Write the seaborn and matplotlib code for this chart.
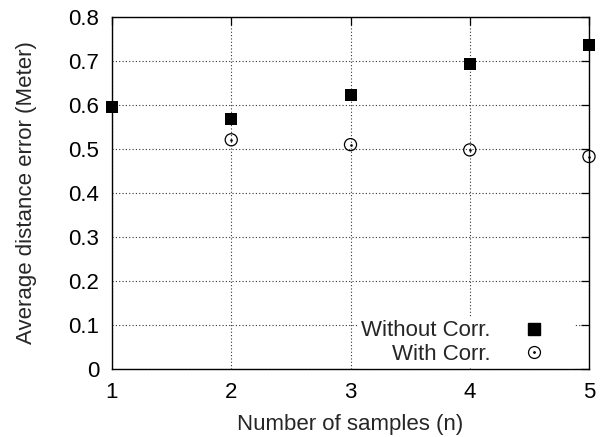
import matplotlib
matplotlib.use("Agg")
import matplotlib.pyplot as plt
import seaborn as sns
import pandas as pd
from matplotlib.lines import Line2D
from matplotlib.legend_handler import HandlerTuple

# values
samples_without = [1, 2, 3, 4, 5]
err_without = [0.596, 0.568, 0.623, 0.694, 0.736]
samples_with = [2, 3, 4, 5]
err_with = [0.521, 0.510, 0.498, 0.483]
y_ticks = [0, 0.1, 0.2, 0.3, 0.4, 0.5, 0.6, 0.7, 0.8]
y_tick_labels = ['0', '0.1', '0.2', '0.3', '0.4', '0.5', '0.6', '0.7', '0.8']
x_ticks = [1, 2, 3, 4, 5]

df_without = pd.DataFrame({'n': samples_without, 'err': err_without})
df_with = pd.DataFrame({'n': samples_with, 'err': err_with})

sns.set_style("white")
plt.rcParams['font.family'] = ['Liberation Sans', 'DejaVu Sans']
plt.rcParams['font.size'] = 16

fig = plt.figure(figsize=(6.11, 4.37), dpi=100)
ax = fig.add_axes([0.1833, 0.1556, 0.7807, 0.8054])

sns.scatterplot(x='n', y='err', data=df_without, marker='s', s=76, color='black',
                edgecolor='black', linewidth=0, ax=ax, zorder=3, clip_on=False)
sns.scatterplot(x='n', y='err', data=df_with, marker='o', s=76, facecolor='none',
                edgecolor='black', linewidth=0.9, ax=ax, zorder=3, clip_on=False)
ax.scatter(df_with['n'], df_with['err'], marker='.', s=3, color='black', zorder=3,
           clip_on=False)

ax.set_xlim(1, 5)
ax.set_ylim(0, 0.8)
ax.set_xticks(x_ticks)
ax.set_xticklabels([str(x) for x in x_ticks])
ax.set_yticks(y_ticks)
ax.set_yticklabels(y_tick_labels)
ax.tick_params(direction='in', length=6, width=0.9, top=True, right=True,
               labelsize=16, colors='black')
ax.tick_params(axis='x', pad=9)
ax.tick_params(axis='y', pad=9)
ax.grid(True, color='#333333', linestyle=(0, (1, 2)), linewidth=0.8)
ax.set_axisbelow(True)
for sp in ax.spines.values():
    sp.set_color('black')
    sp.set_linewidth(1.0)

ax.set_xlabel('Number of samples (n)', fontsize=16, labelpad=8)
ax.set_ylabel('Average distance error (Meter)', fontsize=16, labelpad=23)

h_sq = Line2D([], [], marker='s', linestyle='none', markersize=8.6,
              markerfacecolor='black', markeredgecolor='black')
h_circ = Line2D([], [], marker='o', linestyle='none', markersize=8.6,
                markerfacecolor='none', markeredgecolor='black', markeredgewidth=0.9)
h_dot = Line2D([], [], marker='.', linestyle='none', markersize=2, color='black')
leg = ax.legend([h_sq, (h_circ, h_dot)], ['Without Corr.', 'With Corr.'],
                handler_map={tuple: HandlerTuple(ndivide=1, pad=0)},
                loc='lower right', bbox_to_anchor=(0.9686, 0.006), markerfirst=False,
                frameon=True, fancybox=False, framealpha=1, edgecolor='white',
                facecolor='white', fontsize=16, handlelength=3.4, handletextpad=0.25,
                labelspacing=0.1, borderpad=0.1, borderaxespad=0)
for t in leg.get_texts():
    t.set_ha('right')
leg.set_zorder(2.5)

plt.savefig('out.png', dpi=100)
